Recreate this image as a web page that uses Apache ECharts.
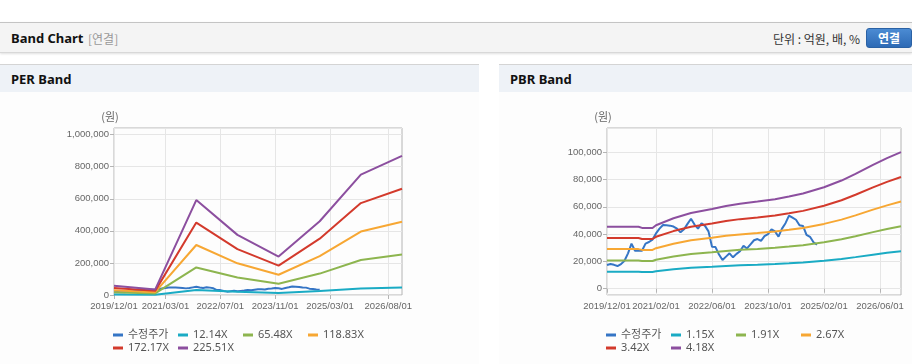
<!DOCTYPE html>
<html>
<head>
<meta charset="utf-8">
<script src="https://cdn.jsdelivr.net/npm/echarts@6.0.0/dist/echarts.min.js"></script>
<style>
  body { margin: 0; width: 912px; height: 364px; overflow: hidden; background: #fff;
         font-family: 'Noto Sans', 'Noto Sans CJK KR', sans-serif; position: relative; }
  .topbar { position: absolute; left: 0; top: 22px; width: 912px; height: 29px; background: #f4f4f4;
            border-top: 1px solid #c4c4c4; border-bottom: 1px solid #d8d8d8; box-shadow: 0 1px 2px rgba(0,0,0,0.12); }
  .topbar .title { position: absolute; left: 11px; top: 6px; font-size: 13px; font-weight: bold; color: #111; }
  .topbar .sub { position: absolute; left: 88px; top: 7px; font-size: 12px; color: #999; font-family: 'Noto Sans CJK KR', sans-serif; }
  .topbar .unit { position: absolute; right: 52px; top: 7px; font-size: 12px; color: #333; font-family: 'Noto Sans CJK KR', sans-serif; }
  .topbar .btn { position: absolute; left: 866px; top: 5px; width: 46px; height: 20px; border-radius: 3px;
                 background: linear-gradient(#4b8bd3, #2d6ab5); border: 1px solid #2a61a4; box-sizing: border-box;
                 color: #fff; font-size: 12px; font-weight: bold; text-align: center; line-height: 18px;
                 font-family: 'Noto Sans CJK KR', sans-serif; }
  .panel { position: absolute; top: 64px; height: 299px; background: #fdfdfd; border-top: 1px solid #d4d4d4; border-bottom: 1px solid #d0d0d0; }
  .panel .head { height: 27px; background: #eef2f7; font-size: 13px; font-weight: bold; color: #111; padding-left: 11px; line-height: 29px; }
  .chart { position: absolute; top: 92px; height: 271px; }
</style>
</head>
<body>
<div class="topbar">
  <span class="title">Band Chart</span>
  <span class="sub">[연결]</span>
  <span class="unit">단위 : 억원, 배, %</span>
  <div class="btn">연결</div>
</div>
<div class="panel" style="left:0;width:479px;"><div class="head">PER Band</div></div>
<div class="panel" style="left:499px;width:413px;"><div class="head">PBR Band</div></div>
<div id="per" class="chart" style="left:0;width:479px;"></div>
<div id="pbr" class="chart" style="left:499px;width:413px;"></div>
<script>
// monthly axis, 2019/12 .. 2026/12
const months = [];
for (let y = 2019, m = 12; y < 2027; ) {
  months.push(y + '/' + String(m).padStart(2, '0') + '/01');
  if (y === 2026 && m === 12) break;
  m++; if (m > 12) { m = 1; y++; }
}

const perLabelIdx = [0, 15, 31, 47, 63, 80];
const pbrLabelIdx = [0, 14, 30, 46, 62, 78];

const colors = ['#3575c5', '#1aabc4', '#8db54f', '#f7a733', '#d33a2c', '#8c4f9f'];

// 수정주가, monthly 2019/12 .. 2024/12
const price = [
  17400, 18100, 17500, 16600, 18000, 20500, 25900, 33000, 27800, 27800,
  27800, 33000, 34200, 36000, 40500, 44000, 46700, 46500, 46200, 45500,
  44000, 41300, 43500, 47500, 51200, 47000, 44000, 48000, 46000, 42000,
  30800, 30500, 25000, 21000, 23500, 25900, 23000, 25500, 27500, 31500,
  29500, 32500, 35500, 36400, 35000, 38500, 40000, 43500, 42000, 38100,
  44000, 48000, 53500, 52000, 50500, 46500, 46000, 39500, 38000, 34000,
  32300
];

// PER band
const perNames = ['12.14X', '65.48X', '118.83X', '172.17X', '225.51X'];
const perDates = ['2019/12/01', '2020/12/01', '2021/12/01', '2022/12/01', '2023/12/01', '2024/12/01', '2025/12/01', '2026/12/01'];
const per1 = [3100, 1800, 31900, 20200, 12900, 24800, 40400, 46700];
const per2 = [16700, 9800, 171900, 108900, 69700, 133600, 218000, 252000];
const per3 = [30300, 17800, 311900, 197600, 126400, 242400, 395700, 457400];
const per4 = [43900, 25800, 451900, 286300, 183200, 351200, 573300, 662700];
const per5 = [57500, 33800, 592000, 375000, 240000, 460000, 751000, 868000];

// PBR band
const pbrNames = ['1.15X', '1.91X', '2.67X', '3.42X', '4.18X'];
const pbrDates = ['2019/12/01', '2020/09/01', '2020/10/01', '2021/01/01', '2021/02/01', '2021/07/01', '2021/12/01',
  '2022/06/01', '2022/10/01', '2023/02/01', '2023/07/01', '2023/12/01', '2024/04/01', '2024/08/01', '2025/02/01',
  '2025/07/01', '2025/11/01', '2026/04/01', '2026/08/01', '2026/12/01'];
const pbr1 = [12490, 12490, 12250, 12250, 12790, 14190, 15270, 16070, 16680, 17140, 17550, 18020, 18570, 19170, 20450, 21790, 23140, 24960, 26300, 27510];
const pbr2 = [20740, 20740, 20340, 20340, 21240, 23570, 25360, 26680, 27700, 28460, 29150, 29930, 30850, 31840, 33960, 36190, 38430, 41450, 43680, 45690];
const pbr3 = [29000, 29000, 28440, 28440, 29690, 32950, 35460, 37300, 38720, 39780, 40740, 41840, 43120, 44510, 47470, 50600, 53720, 57940, 61060, 63870];
const pbr4 = [37140, 37140, 36420, 36420, 38030, 42200, 45420, 47780, 49590, 50960, 52190, 53590, 55230, 57010, 60810, 64810, 68810, 74210, 78220, 81810];
const pbr5 = [45390, 45390, 44520, 44520, 46480, 51580, 55510, 58390, 60610, 62280, 63790, 65500, 67510, 69680, 74320, 79210, 84100, 90710, 95600, 99990];

const axisFont = "'Liberation Sans', Arial, sans-serif";

function pairs(dates, vals) { return dates.map((d, i) => [d, vals[i]]); }

function makeOption(o) {
  const showIdx = (i) => o.labelIdx.includes(i);
  const series = [{ name: '수정주가', type: 'line', data: price }];
  o.names.forEach((n, k) => series.push({ name: n, type: 'line', data: pairs(o.dates, o.bands[k]) }));
  series.forEach((s, k) => {
    s.showSymbol = false; s.symbol = 'none';
    s.lineStyle = { width: 2, color: colors[k] };
    s.itemStyle = { color: colors[k] };
  });
  return {
    animation: false,
    textStyle: { fontFamily: "'Noto Sans', 'Noto Sans CJK KR', sans-serif" },
    grid: { left: o.left, top: 36, width: o.width, height: 167, show: true, borderColor: '#b4b4b4', borderWidth: 1, outerBoundsMode: 'none' },
    legend: {
      left: o.left - 6, top: 232, width: 262, itemWidth: 10, itemHeight: 3, itemGap: 1, icon: 'rect',
      textStyle: { fontSize: 11, color: '#555', width: 49, lineHeight: 12, fontFamily: "'Noto Sans', 'Noto Sans CJK KR', sans-serif" },
      data: ['수정주가'].concat(o.names)
    },
    xAxis: {
      type: 'category', data: months, boundaryGap: false,
      axisLine: { show: false },
      axisTick: { show: true, interval: (i) => showIdx(i), length: 4, lineStyle: { color: '#b4b4b4' } },
      axisLabel: { interval: (i) => showIdx(i), showMinLabel: true, showMaxLabel: true, hideOverlap: false,
                   color: '#666', fontSize: 9.5, fontFamily: axisFont, margin: 6 },
      splitLine: { show: true, interval: (i) => showIdx(i), lineStyle: { color: '#e6e6e6' } }
    },
    yAxis: {
      type: 'value', min: o.min, max: o.max, splitNumber: 5,
      name: '(원)', nameGap: 6,
      nameTextStyle: { color: '#666', fontSize: 11, fontFamily: "'Noto Sans CJK KR', sans-serif", padding: [0, 8, 0, 0] },
      axisLine: { show: false },
      axisTick: { show: true, length: 4, lineStyle: { color: '#b4b4b4' } },
      axisLabel: { color: '#666', fontSize: 9.5, fontFamily: axisFont, margin: 5, showMinLabel: o.min === 0, showMaxLabel: false,
                   formatter: (v) => v.toLocaleString('en-US') },
      splitLine: { show: true, lineStyle: { color: '#e6e6e6' } }
    },
    series: series
  };
}

const perChart = echarts.init(document.getElementById('per'));
perChart.setOption(makeOption({
  left: 114, width: 288, min: 0, max: 1041600, labelIdx: perLabelIdx,
  names: perNames, dates: perDates, bands: [per1, per2, per3, per4, per5]
}));

const pbrChart = echarts.init(document.getElementById('pbr'));
pbrChart.setOption(makeOption({
  left: 108, width: 294, min: -4600, max: 117700, labelIdx: pbrLabelIdx,
  names: pbrNames, dates: pbrDates, bands: [pbr1, pbr2, pbr3, pbr4, pbr5]
}));
</script>
</body>
</html>
